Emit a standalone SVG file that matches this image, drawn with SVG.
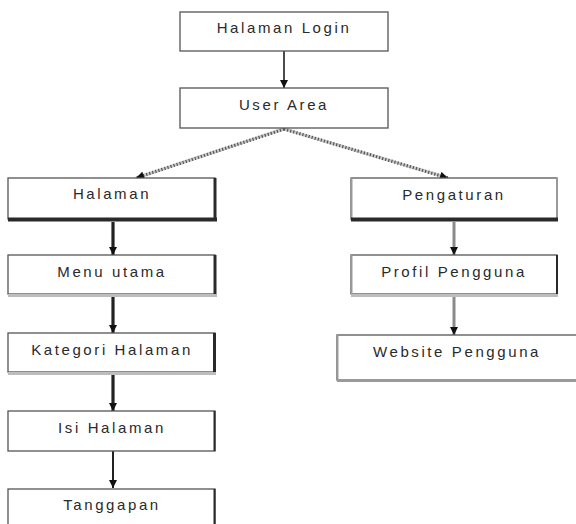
<svg xmlns="http://www.w3.org/2000/svg" width="576" height="524" viewBox="0 0 576 524">
<defs>
<style>
.box{fill:#fff;stroke:#555;stroke-width:1.3}
.lbl{font-family:"Liberation Sans",Arial,sans-serif;font-size:15px;letter-spacing:2.6px;fill:#2a2a2a;text-anchor:middle}
.dk{stroke:#2a2a2a;fill:none}
.lt{stroke:#bdbdbd;fill:none}
.gy{stroke:#9a9a9a;fill:none}
</style>
<marker id="ah" viewBox="0 0 10 10" refX="10" refY="5" markerWidth="9" markerHeight="8" markerUnits="userSpaceOnUse" orient="auto">
<path d="M0,0 L10,5 L0,10 Z" fill="#111"/>
</marker>
</defs>
<rect width="576" height="524" fill="#fff"/>

<g id="connectors">
<line x1="284" y1="51" x2="284" y2="88" stroke="#111" stroke-width="1.5" marker-end="url(#ah)"/>
<line x1="284" y1="129" x2="136" y2="178" stroke="#c8c8c8" stroke-width="3.2"/>
<line x1="284" y1="129" x2="136" y2="178" stroke="#555" stroke-width="3.2" stroke-dasharray="1.2 2" marker-end="url(#ah)"/>
<line x1="284" y1="129" x2="448" y2="178" stroke="#c8c8c8" stroke-width="3.2"/>
<line x1="284" y1="129" x2="448" y2="178" stroke="#555" stroke-width="3.2" stroke-dasharray="1.2 2" marker-end="url(#ah)"/>
<line x1="113" y1="222" x2="113" y2="255" stroke="#222" stroke-width="3.2" marker-end="url(#ah)"/>
<line x1="113" y1="296" x2="113" y2="333" stroke="#222" stroke-width="3.2" marker-end="url(#ah)"/>
<line x1="113" y1="374" x2="113" y2="411" stroke="#222" stroke-width="3.2" marker-end="url(#ah)"/>
<line x1="113" y1="451" x2="113" y2="488" stroke="#222" stroke-width="2" marker-end="url(#ah)"/>
<line x1="454" y1="222" x2="454" y2="255" stroke="#8a8a8a" stroke-width="3" marker-end="url(#ah)"/>
<line x1="454" y1="295" x2="454" y2="335" stroke="#8a8a8a" stroke-width="3" marker-end="url(#ah)"/>
</g>

<g id="halaman-login">
<rect class="box" x="180" y="12" width="208" height="39"/>
<text class="lbl" x="284" y="33">Halaman Login</text>
</g>

<g id="user-area">
<rect class="box" x="180" y="88" width="208" height="40"/>
<text class="lbl" x="284" y="110">User Area</text>
</g>

<g id="halaman">
<rect class="box" x="8" y="178" width="207" height="41"/>
<line class="dk" x1="215" y1="178" x2="215" y2="221" stroke-width="3"/>
<line class="dk" x1="8" y1="219.5" x2="217" y2="219.5" stroke-width="4"/>
<text class="lbl" x="112" y="199">Halaman</text>
</g>

<g id="menu-utama">
<rect class="box" x="8" y="255" width="207" height="39"/>
<line class="dk" x1="215" y1="255" x2="215" y2="294" stroke-width="3"/>
<line class="lt" x1="8" y1="295.5" x2="217" y2="295.5" stroke-width="3"/>
<text class="lbl" x="112" y="277">Menu utama</text>
</g>

<g id="kategori-halaman">
<rect class="box" x="8" y="333" width="207" height="39"/>
<line class="dk" x1="214.5" y1="333" x2="214.5" y2="373" stroke-width="3"/>
<line class="lt" x1="8" y1="373.5" x2="216" y2="373.5" stroke-width="3"/>
<text class="lbl" x="112" y="355">Kategori Halaman</text>
</g>

<g id="isi-halaman">
<rect class="box" x="8" y="411" width="207" height="40"/>
<line class="dk" x1="214.5" y1="411" x2="214.5" y2="451" stroke-width="2"/>
<text class="lbl" x="112" y="433">Isi Halaman</text>
</g>

<g id="tanggapan">
<rect class="box" x="8" y="489" width="207" height="45"/>
<line class="dk" x1="214.5" y1="489" x2="214.5" y2="524" stroke-width="2"/>
<text class="lbl" x="112" y="510">Tanggapan</text>
</g>

<g id="pengaturan">
<rect class="box" x="351" y="178" width="206" height="41"/>
<line class="gy" x1="351.5" y1="178" x2="351.5" y2="219" stroke-width="2"/>
<line class="gy" x1="557" y1="178" x2="557" y2="219" stroke-width="2"/>
<line class="dk" x1="351" y1="219.5" x2="558" y2="219.5" stroke-width="4"/>
<text class="lbl" x="454" y="200">Pengaturan</text>
</g>

<g id="profil-pengguna">
<rect class="box" x="351" y="255" width="206" height="39"/>
<line class="gy" x1="351.5" y1="255" x2="351.5" y2="294" stroke-width="2"/>
<line class="dk" x1="557" y1="255" x2="557" y2="294" stroke-width="2"/>
<line class="lt" x1="351" y1="295.5" x2="558" y2="295.5" stroke-width="3"/>
<text class="lbl" x="454" y="277">Profil Pengguna</text>
</g>

<g id="website-pengguna">
<rect class="box" x="337" y="335" width="245" height="45"/>
<line class="gy" x1="337.5" y1="335" x2="337.5" y2="380" stroke-width="2"/>
<line class="gy" x1="337" y1="380.5" x2="576" y2="380.5" stroke-width="3"/>
<text class="lbl" x="457" y="357">Website Pengguna</text>
</g>
</svg>
